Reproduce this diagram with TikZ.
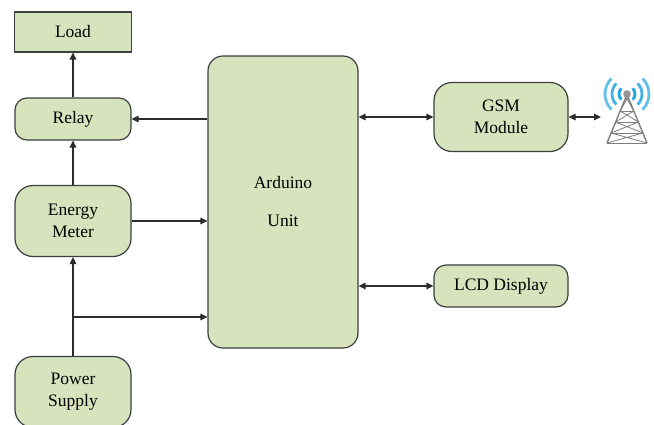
\documentclass[tikz,border=0pt]{standalone}
\usepackage{fontspec}
\setmainfont{Liberation Serif}
\usetikzlibrary{positioning, arrows.meta}

\definecolor{boxfill}{RGB}{215,227,188}
\definecolor{boxline}{RGB}{62,62,62}
\definecolor{wire}{RGB}{45,45,45}
\definecolor{wave}{RGB}{32,165,222}
\definecolor{steel}{RGB}{125,125,125}

\tikzset{
    blk/.style={draw=boxline, fill=boxfill, line width=1.2pt, align=center,
        inner sep=0pt, font=\fontsize{17.5}{22}\selectfont},
    link/.style={color=wire, line width=1.2pt, -{Triangle[length=7pt, width=6.5pt]}},
    both/.style={link, {Triangle[length=7pt, width=6.5pt]}-{Triangle[length=7pt, width=6.5pt]}}
}

\begin{document}
\begin{tikzpicture}[x=1pt, y=-1pt, node distance=100pt, on grid]
    \useasboundingbox (0,0) rectangle (654,424);

    \node[blk, rounded corners=12pt, minimum width=116pt, minimum height=42pt] (relay) at (73,119) {Relay};
    \node[blk, minimum width=117pt, minimum height=40pt] (load) [above=87pt of relay] {Load};
    \node[blk, rounded corners=18pt, minimum width=116pt, minimum height=71pt] (meter) [below=102pt of relay] {Energy\\Meter};
    \node[blk, rounded corners=18pt, minimum width=116pt, minimum height=71pt] (supply) [below=171pt of meter] {Power\\Supply};
    \node[blk, rounded corners=15pt, minimum width=150pt, minimum height=292pt] (ard) at (283,202) {Arduino\\[16pt]Unit};
    \node[blk, rounded corners=18pt, minimum width=134pt, minimum height=69pt] (gsm) at (501,117) {GSM\\Module};
    \node[blk, rounded corners=12pt, minimum width=134pt, minimum height=42pt] (lcd) at (501,286) {LCD Display};

    \coordinate (br) at (73,317);
    \coordinate (ant) at (601,117);

    \path[link]
    (relay) edge (load)
    (meter) edge (relay)
    (supply) edge (meter)
    (ard.west |- relay) edge (relay)
    (meter) edge (ard.west |- meter)
    (br) edge (ard.west |- br);

    \path[both]
    (ard.east |- gsm) edge (gsm)
    (ard.east |- lcd) edge (lcd)
    (gsm) edge (ant);

    \begin{scope}[shift={(627,94)}]
        \draw[steel, line width=1.4pt, line join=round]
            (-1,3) -- (-20,49) (1,3) -- (20,49);
        \foreach \h in {17,28,39,49} {
            \draw[steel, line width=1pt] ({-1-(\h-3)*19/46},\h) -- ({1+(\h-3)*19/46},\h);
        }
        \draw[steel, line width=0.8pt]
            (-1,3) -- (6.8,17) (1,3) -- (-6.8,17)
            (-6.8,17) -- (11.4,28) (6.8,17) -- (-11.4,28)
            (-11.4,28) -- (15.9,39) (11.4,28) -- (-15.9,39)
            (-15.9,39) -- (20,49) (15.9,39) -- (-20,49);
        \fill[steel!80] (0,0) circle (3.8pt);
        \foreach \r/\c in {8/wave, 15/wave!85, 22/wave!70} {
            \draw[\c, line width=2.8pt] (135:\r) arc (135:225:\r);
            \draw[\c, line width=2.8pt] (-45:\r) arc (-45:45:\r);
        }
    \end{scope}
\end{tikzpicture}
\end{document}
